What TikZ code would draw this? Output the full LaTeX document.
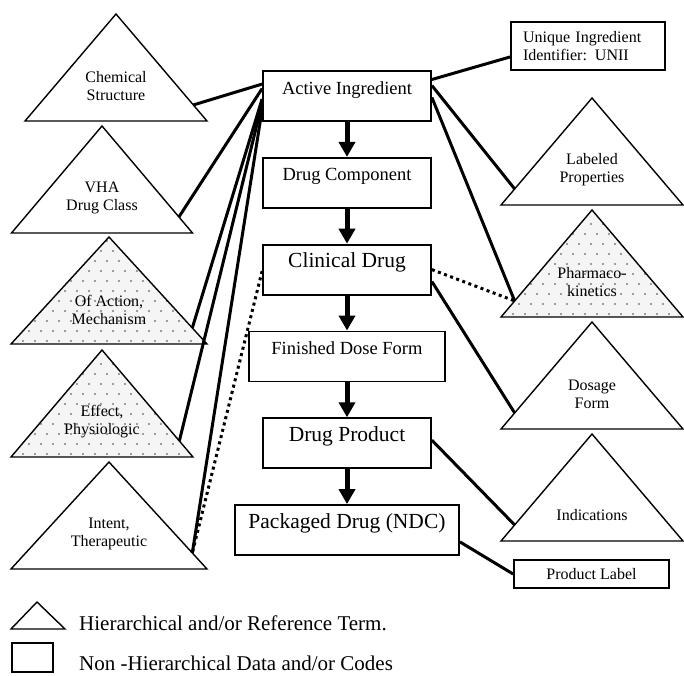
\documentclass[tikz,border=0pt]{standalone}
\usepackage{fontspec}
\setmainfont{Liberation Serif}
\usetikzlibrary{arrows.meta,positioning,calc}
\definecolor{dotc}{RGB}{125,125,125}
\definecolor{dotbg}{RGB}{245,245,245}
\tikzset{box/.style={draw,line width=1.8pt,minimum width=168pt,inner sep=0pt,text height=23pt,text depth=27pt,font=\fontsize{18.5}{20}\selectfont},
 bigbox/.style={box,font=\fontsize{21.5}{23}\selectfont},
 tag/.style={draw,line width=1.8pt,inner sep=0pt,font=\fontsize{16}{18}\selectfont},
 tri/.style={line width=1.4pt,line join=miter},
 tritext/.style={align=center,inner sep=0pt,font=\fontsize{16}{18}\selectfont},
 link/.style={line width=3pt},dotlink/.style={link,dash pattern=on 3pt off 3.5pt},
 down/.style={-{Triangle[length=15pt,width=16pt]},line width=5pt},
 legend/.style={anchor=west,inner sep=0pt,font=\fontsize{21}{23}\selectfont}}
\begin{document}
\begin{tikzpicture}[x=1pt,y=-1pt]
\useasboundingbox (0,0) rectangle (684,675);
% dotted fills
\foreach \cx/\ty/\w in {109/237/196,102/350/182,592/210/182}{
\begin{scope}
\clip (\cx,\ty) -- ++(\w/2,107) -- ++(-\w,0) -- cycle;
\fill[dotbg] (\cx-\w/2,\ty) rectangle (\cx+\w/2,\ty+107);
\foreach \i in {0,...,10}{\foreach \j in {0,...,17}{
\fill[dotc] ({\cx-\w/2+\j*12+mod(\i,2)*6},{\ty+4+\i*10}) circle (1.1);}}
\end{scope}}
% triangles
\foreach \n/\cx/\ty/\w/\ly/\txt in {chem/116/14/182/72/{Chemical\\Structure},vha/102/126/181/72/{VHA\\Drug Class},
 mech/109/237/196/73/{Of Action,\\Mechanism},eff/102/350/182/72/{Effect,\\Physiologic},int/109/462/196/72/{Intent,\\Therapeutic},
 lab/592/98/182/72/{Labeled\\Properties},pk/592/210/182/72/{Pharmaco-\\kinetics},dos/592/322/182/72/{Dosage\\Form},ind/592/434/182/81/{Indications}}{
\coordinate (\n-a) at (\cx,\ty);\coordinate (\n-bl) at (\cx-\w/2,\ty+107);\coordinate (\n-br) at (\cx+\w/2,\ty+107);
\draw[tri] (\n-a) -- (\n-bl) -- (\n-br) -- cycle;
\node[tritext] (\n) at (\cx,\ty+\ly) {\txt};
\coordinate (\n-l) at ($(\n-a)!.85!(\n-bl)$);\coordinate (\n-r) at ($(\n-a)!.85!(\n-br)$);}
% main chain
\node[box] (ai) at (347,96) {Active Ingredient};
\node[box,below=35pt of ai] (dc) {Drug Component};
\node[bigbox,below=35pt of dc] (cd) {Clinical Drug};
\node[box,minimum width=196pt,below=35pt of cd] (fdf) {Finished Dose Form};
\node[bigbox,below=35pt of fdf] (dp) {Drug Product};
\node[bigbox,minimum width=224pt,below=35pt of dp] (pd) {Packaged Drug (NDC)};
\foreach \a/\b in {ai/dc,dc/cd,cd/fdf,fdf/dp,dp/pd}{\draw[down] (\a) -- (\b);}
\node[tag,text width=130pt,align=left,inner xsep=12pt,minimum height=48pt] (unii) at (588,46) {Unique Ingredient\\Identifier: UNII};
\node[tag,minimum width=155pt,minimum height=28pt] (pl) at (591.5,574) {Product Label};
% links
\draw[link] (ai.172) -- (chem-r);\draw[link] (ai.175) -- (vha-r);
\draw[link] (ai.182) -- (mech-r);\draw[link] (ai.185) -- (eff-r);\draw[link] (ai.189) -- (int-r);
\draw[link] (ai.11) -- (unii.188);\draw[link] (ai.7) -- (lab-l);\draw[link] (ai.359) -- (pk-l);
\draw[dotlink] (cd.east) -- (pk-l);\draw[link] (cd.352) -- (dos-l);
\draw[dotlink] (cd.181) -- (int-r);
\draw[link] (dp.2) -- (ind-l);\draw[link] (pd.354) -- (pl.west);
% legend
\draw[tri] (37,602) -- (11,629) -- (65,629) -- cycle;
\draw[tri] (12,643) rectangle (53,672);
\node[legend] (lt) at (79,623) {Hierarchical and/or Reference Term.};
\node[legend] (lb) at (79,663) {Non -Hierarchical Data and/or Codes};
\end{tikzpicture}
\end{document}
